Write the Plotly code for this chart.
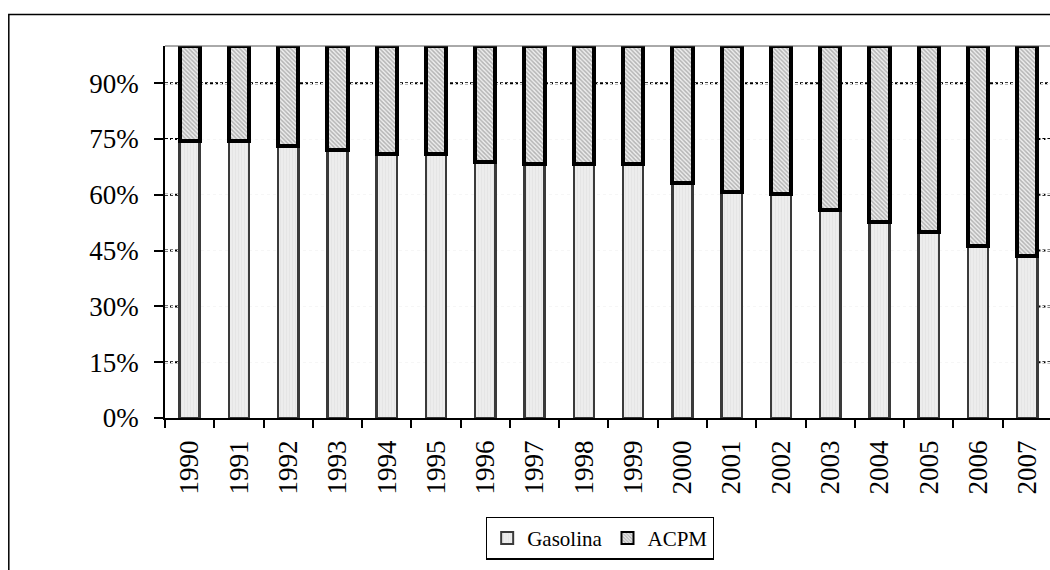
import plotly.graph_objects as go

# Share of each fuel in total consumption (%)
years = [str(y) for y in range(1990, 2008)]
gasolina = [74.4, 74.4, 73.0, 72.1, 71.1, 71.1, 68.8, 68.4, 68.3, 68.2,
            63.2, 60.8, 60.3, 55.9, 52.8, 50.1, 46.2, 43.6]
acpm = [round(100 - g, 1) for g in gasolina]

y_ticks = [0, 15, 30, 45, 60, 75, 90]
y_labels = [f"{v}%" for v in y_ticks]

SERIF = "Liberation Serif"

fig = go.Figure()
fig.add_trace(go.Bar(
    x=years, y=gasolina, name="Gasolina",
    marker=dict(
        color="#ebebeb",
        line=dict(color="#3a3a3a", width=2.5),
        pattern=dict(shape="|", fgcolor="#dcdcdc", bgcolor="#ededed", size=3, solidity=0.3),
    ),
))
fig.add_trace(go.Bar(
    x=years, y=acpm, name="ACPM",
    marker=dict(
        color="#ffffff",
        line=dict(color="#000000", width=4),
        pattern=dict(shape="\\", fgcolor="#7a7a7a", bgcolor="#eeeeee", size=3, solidity=0.5),
    ),
))

n = len(years)
bar_gap = 0.59
half_bar = (1 - bar_gap) / 2

grid_line = dict(color="#000000", width=2, dash="3px,2px")
shapes = []
# dashed grid segments visible beside the outer bars, full line at the top tick
for v in y_ticks[1:]:
    if v == 90:
        shapes.append(dict(type="line", xref="x", yref="y", x0=-0.5, x1=n - 0.5,
                           y0=v, y1=v, layer="below", line=grid_line))
    else:
        shapes.append(dict(type="line", xref="x", yref="y", x0=-0.5, x1=-half_bar,
                           y0=v, y1=v, layer="below", line=grid_line))
        shapes.append(dict(type="line", xref="x", yref="y", x0=n - 1 + half_bar, x1=n - 0.5,
                           y0=v, y1=v, layer="below", line=grid_line))
# top border of the plot area
shapes.append(dict(type="line", xref="paper", yref="paper", x0=0, x1=1, y0=1, y1=1,
                   line=dict(color="#555555", width=1)))
# outer chart frame
shapes.append(dict(type="rect", xref="paper", yref="paper",
                   x0=-0.1765, x1=1.2, y0=-0.6, y1=1.0847,
                   line=dict(color="#000000", width=1.5)))

fig.update_layout(
    width=1050, height=570,
    margin=dict(l=165, r=0, t=46, b=152),
    barmode="stack",
    bargap=bar_gap,
    plot_bgcolor="#ffffff",
    paper_bgcolor="#ffffff",
    font=dict(family=SERIF, color="#000000", size=27),
    shapes=shapes,
    showlegend=True,
    legend=dict(
        orientation="h",
        x=0.4915, xanchor="center",
        y=-0.265, yanchor="top",
        font=dict(family=SERIF, size=21, color="#000000"),
        bordercolor="#000000", borderwidth=1.2,
        bgcolor="#ffffff",
        traceorder="normal",
        itemsizing="constant",
    ),
    xaxis=dict(
        type="category",
        range=[-0.5, n - 0.54],
        tickangle=-90,
        tickson="boundaries",
        ticks="outside", ticklen=8, tickwidth=1.5, tickcolor="#000000",
        showline=True, linecolor="#000000", linewidth=1.5,
        showgrid=False,
        ticklabelstandoff=10,
        tickfont=dict(family=SERIF, size=27),
    ),
    yaxis=dict(
        range=[0, 100],
        tickvals=y_ticks, ticktext=y_labels,
        ticks="outside", ticklen=9, tickwidth=1.5, tickcolor="#000000",
        showline=True, linecolor="#000000", linewidth=1.5,
        showgrid=True, gridcolor="#f6f6f6", griddash="dot", gridwidth=1,
        zeroline=False,
        ticklabelstandoff=10,
        tickfont=dict(family=SERIF, size=27),
    ),
)

fig.write_html("out.html")
